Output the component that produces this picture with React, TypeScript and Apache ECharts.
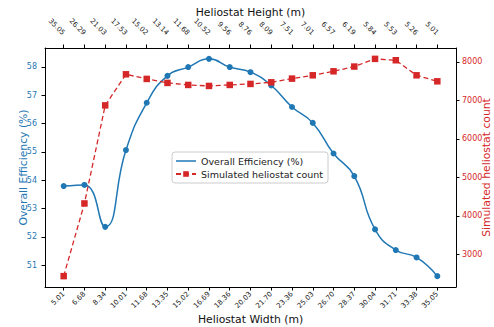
import React, { useEffect, useRef } from "react";
import * as echarts from "echarts";

// Heliostat geometry (bottom axis: width, top axis: matching height)
const widthLabels = [
  "5.01", "6.68", "8.34", "10.01", "11.68", "13.35", "15.02", "16.69", "18.36", "20.03",
  "21.70", "23.36", "25.03", "26.70", "28.37", "30.04", "31.71", "33.38", "35.05",
];
const heightLabels = [
  "35.05", "26.29", "21.03", "17.53", "15.02", "13.14", "11.68", "10.52", "9.56", "8.76",
  "8.09", "7.51", "7.01", "6.57", "6.19", "5.84", "5.53", "5.26", "5.01",
];

// Results per configuration
const efficiency = [
  53.79, 53.83, 52.35, 55.06, 56.73, 57.68, 57.99, 58.28, 57.99, 57.81,
  57.34, 56.58, 56.02, 54.94, 54.14, 52.26, 51.53, 51.27, 50.61,
];
const heliostatCount = [
  2435, 4323, 6870, 7677, 7557, 7453, 7401, 7375, 7401, 7427,
  7469, 7565, 7651, 7755, 7878, 8078, 8042, 7651, 7495,
];

// Tick values shown on the two y axes
const efficiencyTicks = [51, 52, 53, 54, 55, 56, 57, 58];
const countTicks = [3000, 4000, 5000, 6000, 7000, 8000];

const BLUE = "#1f77b4";
const RED = "#d62728";
const FONT = "DejaVu Sans";

// 5% padding around the data range on each side
function padded(values: number[]): [number, number] {
  const lo = Math.min(...values);
  const hi = Math.max(...values);
  const m = (hi - lo) * 0.05;
  return [lo - m, hi + m];
}

export default function App() {
  const ref = useRef<HTMLDivElement>(null);

  useEffect(() => {
    if (!ref.current) return;
    const chart = echarts.init(ref.current, undefined, { renderer: "svg" });

    const idx = widthLabels.map((_, i) => i);
    const [xMin, xMax] = padded(idx);
    const [effMin, effMax] = padded(efficiency);
    const [cntMin, cntMax] = padded(heliostatCount);

    const effData = efficiency.map((v, i) => [i, v]);
    const cntData = heliostatCount.map((v, i) => [i, v]);

    const titleStyle = { fontFamily: FONT, fontSize: 10.8, fontWeight: "normal" as const };

    const xCommon = {
      type: "value" as const,
      min: xMin,
      max: xMax,
      nameLocation: "middle" as const,
      nameMoveOverlap: false,
      nameTextStyle: { ...titleStyle, color: "#111" },
      axisLine: { show: true, onZero: false, lineStyle: { color: "#000", width: 1 } },
      axisTick: { show: true, length: 3.5, customValues: idx, lineStyle: { color: "#000" } },
      splitLine: { show: false },
    };

    chart.setOption({
      animation: false,
      backgroundColor: "#fff",
      textStyle: { fontFamily: FONT },
      // fixed plot rectangle; labels and titles sit outside it
      grid: { left: 45, right: 38, top: 48, bottom: 40, containLabel: false, outerBoundsMode: "none" },
      legend: {
        orient: "vertical",
        left: 172,
        top: 152,
        data: [
          // plain line swatch: the efficiency curve has no markers of its own
          { name: "Overall Efficiency (%)", icon: "path://M0,0 L20,0 L20,1.5 L0,1.5 Z" },
          { name: "Simulated heliostat count" },
        ],
        itemWidth: 20,
        itemHeight: 7,
        itemGap: 3,
        padding: [4, 5, 4, 3],
        backgroundColor: "rgba(255,255,255,0.8)",
        borderColor: "#cccccc",
        borderWidth: 1,
        borderRadius: 3,
        textStyle: { fontFamily: FONT, fontSize: 9.5, color: "#222" },
      },
      xAxis: [
        {
          ...xCommon,
          position: "bottom",
          name: "Heliostat Width (m)",
          nameGap: 27,
          axisLabel: {
            customValues: idx,
            rotate: 45,
            margin: 6,
            fontFamily: FONT,
            fontSize: 7,
            color: "#222",
            formatter: (v: number) => widthLabels[Math.round(v)] ?? "",
          },
        },
        {
          ...xCommon,
          position: "top",
          name: "Heliostat Height (m)",
          nameGap: 30,
          axisLabel: {
            customValues: idx,
            rotate: 45,
            align: "right",
            margin: 14,
            fontFamily: FONT,
            fontSize: 7,
            color: "#222",
            formatter: (v: number) => heightLabels[Math.round(v)] ?? "",
          },
        },
      ],
      yAxis: [
        {
          type: "value",
          position: "left",
          min: effMin,
          max: effMax,
          name: "Overall Efficiency (%)",
          nameLocation: "middle",
          nameMoveOverlap: false,
          nameGap: 16,
          nameTextStyle: { ...titleStyle, color: BLUE },
          axisLine: { show: true, onZero: false, lineStyle: { color: "#000", width: 1 } },
          axisTick: { show: true, length: 3.5, customValues: efficiencyTicks, lineStyle: { color: "#000" } },
          axisLabel: {
            customValues: efficiencyTicks,
            margin: 8,
            fontFamily: FONT,
            fontSize: 8,
            color: BLUE,
            formatter: (v: number) => String(Math.round(v)),
          },
          splitLine: { show: false },
        },
        {
          type: "value",
          position: "right",
          min: cntMin,
          max: cntMax,
          name: "Simulated heliostat count",
          nameLocation: "middle",
          nameMoveOverlap: false,
          nameGap: 25,
          nameRotate: 90,
          nameTextStyle: { ...titleStyle, color: RED },
          axisLine: { show: true, onZero: false, lineStyle: { color: "#000", width: 1 } },
          axisTick: { show: true, length: 3.5, customValues: countTicks, lineStyle: { color: "#000" } },
          axisLabel: {
            customValues: countTicks,
            margin: 6,
            fontFamily: FONT,
            fontSize: 8,
            color: RED,
            formatter: (v: number) => String(Math.round(v)),
          },
          splitLine: { show: false },
        },
      ],
      series: [
        {
          name: "Overall Efficiency (%)",
          type: "line",
          xAxisIndex: 0,
          yAxisIndex: 0,
          data: effData,
          smooth: 0.5,
          symbol: "none",
          lineStyle: { color: BLUE, width: 1.5 },
          itemStyle: { color: BLUE },
          z: 2,
        },
        {
          name: "efficiency points",
          type: "scatter",
          xAxisIndex: 0,
          yAxisIndex: 0,
          data: effData,
          symbol: "circle",
          symbolSize: 6,
          itemStyle: { color: BLUE, opacity: 1 },
          z: 3,
        },
        {
          name: "Simulated heliostat count",
          type: "line",
          xAxisIndex: 0,
          yAxisIndex: 1,
          data: cntData,
          symbol: "rect",
          symbolSize: 6.5,
          showSymbol: true,
          lineStyle: { color: RED, width: 1.3, type: [5, 3] },
          itemStyle: { color: RED },
          z: 4,
        },
      ],
    });

    return () => chart.dispose();
  }, []);

  return (
    <div
      ref={ref}
      style={{ position: "fixed", left: 0, top: 0, width: 494, height: 327, background: "#fff" }}
    />
  );
}
